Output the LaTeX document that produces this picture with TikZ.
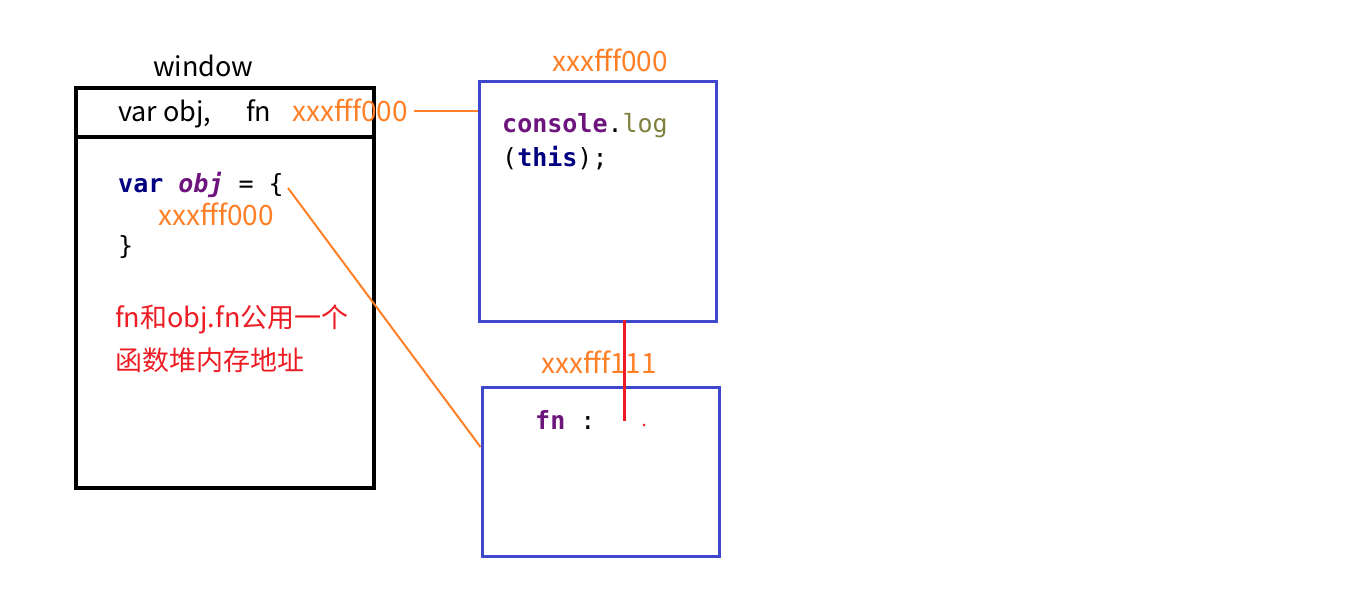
\documentclass[tikz,border=0pt]{standalone}
\usepackage{fontspec}
\setmainfont{Noto Sans CJK SC}
\newfontfamily\codefont{DejaVu Sans Mono}
\usetikzlibrary{positioning}
\definecolor{addrorange}{RGB}{255,127,39}
\definecolor{notered}{RGB}{237,28,36}
\definecolor{heapblue}{RGB}{63,72,204}
\definecolor{kwnavy}{RGB}{0,0,128}
\definecolor{idpurple}{RGB}{110,20,125}
\definecolor{fnolive}{RGB}{128,128,64}

\begin{document}
\begin{tikzpicture}[x=1pt,y=-1pt]
    % Setup the styles for texts and boxes
        \tikzset{text style/.style={inner sep=0pt, anchor=base west,
                                    font=\fontsize{27}{31}\selectfont},
                 addr style/.style={text style, text=addrorange,
                                    font=\fontsize{28}{32}\selectfont},
                 note style/.style={text style, text=notered},
                 code style/.style={inner sep=0pt, anchor=base west,
                                    font=\codefont\fontsize{25}{30}\selectfont},
                 heap box/.style={draw=heapblue, line width=3pt,
                                  minimum width=237pt, inner sep=0pt},
                 link style/.style={draw=addrorange, line width=2pt}}
        \useasboundingbox (0,0) rectangle (1360,591);
        % Draw the window object
        \node[text style] at (153,77)     (winlabel)  {window};
        \node[draw, line width=4pt, minimum width=298pt, minimum height=400pt,
              inner sep=0pt] at (225,288) (winbox) {};
        \draw[line width=4pt] (winbox.west |- 0,137) -- (winbox.east |- 0,137);
        \node[text style] at (118,122)    (declvars)  {var obj,};
        \node[text style] at (246,122)    (declfn)    {fn};
        \node[addr style] at (292,122)    (fnaddr)    {xxxfff000};
        \node[code style] at (118,192)    (objopen)
            {\textcolor{kwnavy}{\bfseries var} \textcolor{idpurple}{\bfseries\itshape obj} = \{};
        \node[addr style] at (158,225)    (objaddr)   {xxxfff000};
        \node[code style] at (118,254)    (objclose)  {\}};
        \node[note style] at (115,327)    (note1)     {fn和obj.fn公用一个};
        \node[note style] at (115,370)    (note2)     {函数堆内存地址};
        % Draw the heap boxes
        \node[heap box, minimum height=239pt] at (597.5,201.5) (fnbox)  {};
        \node[addr style] at (552,72)     (fnboxaddr) {xxxfff000};
        \node[code style] at (502,133)    (logline)
            {\textcolor{idpurple}{\bfseries console}.\textcolor{fnolive}{log}};
        \node[code style] at (502,167)    (thisline)
            {(\textcolor{kwnavy}{\bfseries this});};
        \node[heap box, minimum height=169pt] at (600.5,471.5) (objbox) {};
        \node[addr style] at (541,373)    (objboxaddr) {xxxfff111};
        \node[code style] at (535,429)    (fnkey)
            {\textcolor{idpurple}{\bfseries fn} :};
        \coordinate (objref) at (288,188);
        \coordinate (fnref)  at (624,421);
        \node[circle, fill=notered, inner sep=0pt, minimum size=3pt] at (644,425) (dot) {};
        % Connect the references
        \draw[link style] (fnaddr.east |- 0,111) ++(6,0) -- (fnbox.west |- 0,111);
        \draw[link style] (objref) -- (objbox.west |- 0,447);
        \draw[draw=notered, line width=3pt] (fnbox.south -| fnref) ++(0,-3) -- (fnref);
\end{tikzpicture}
\end{document}
